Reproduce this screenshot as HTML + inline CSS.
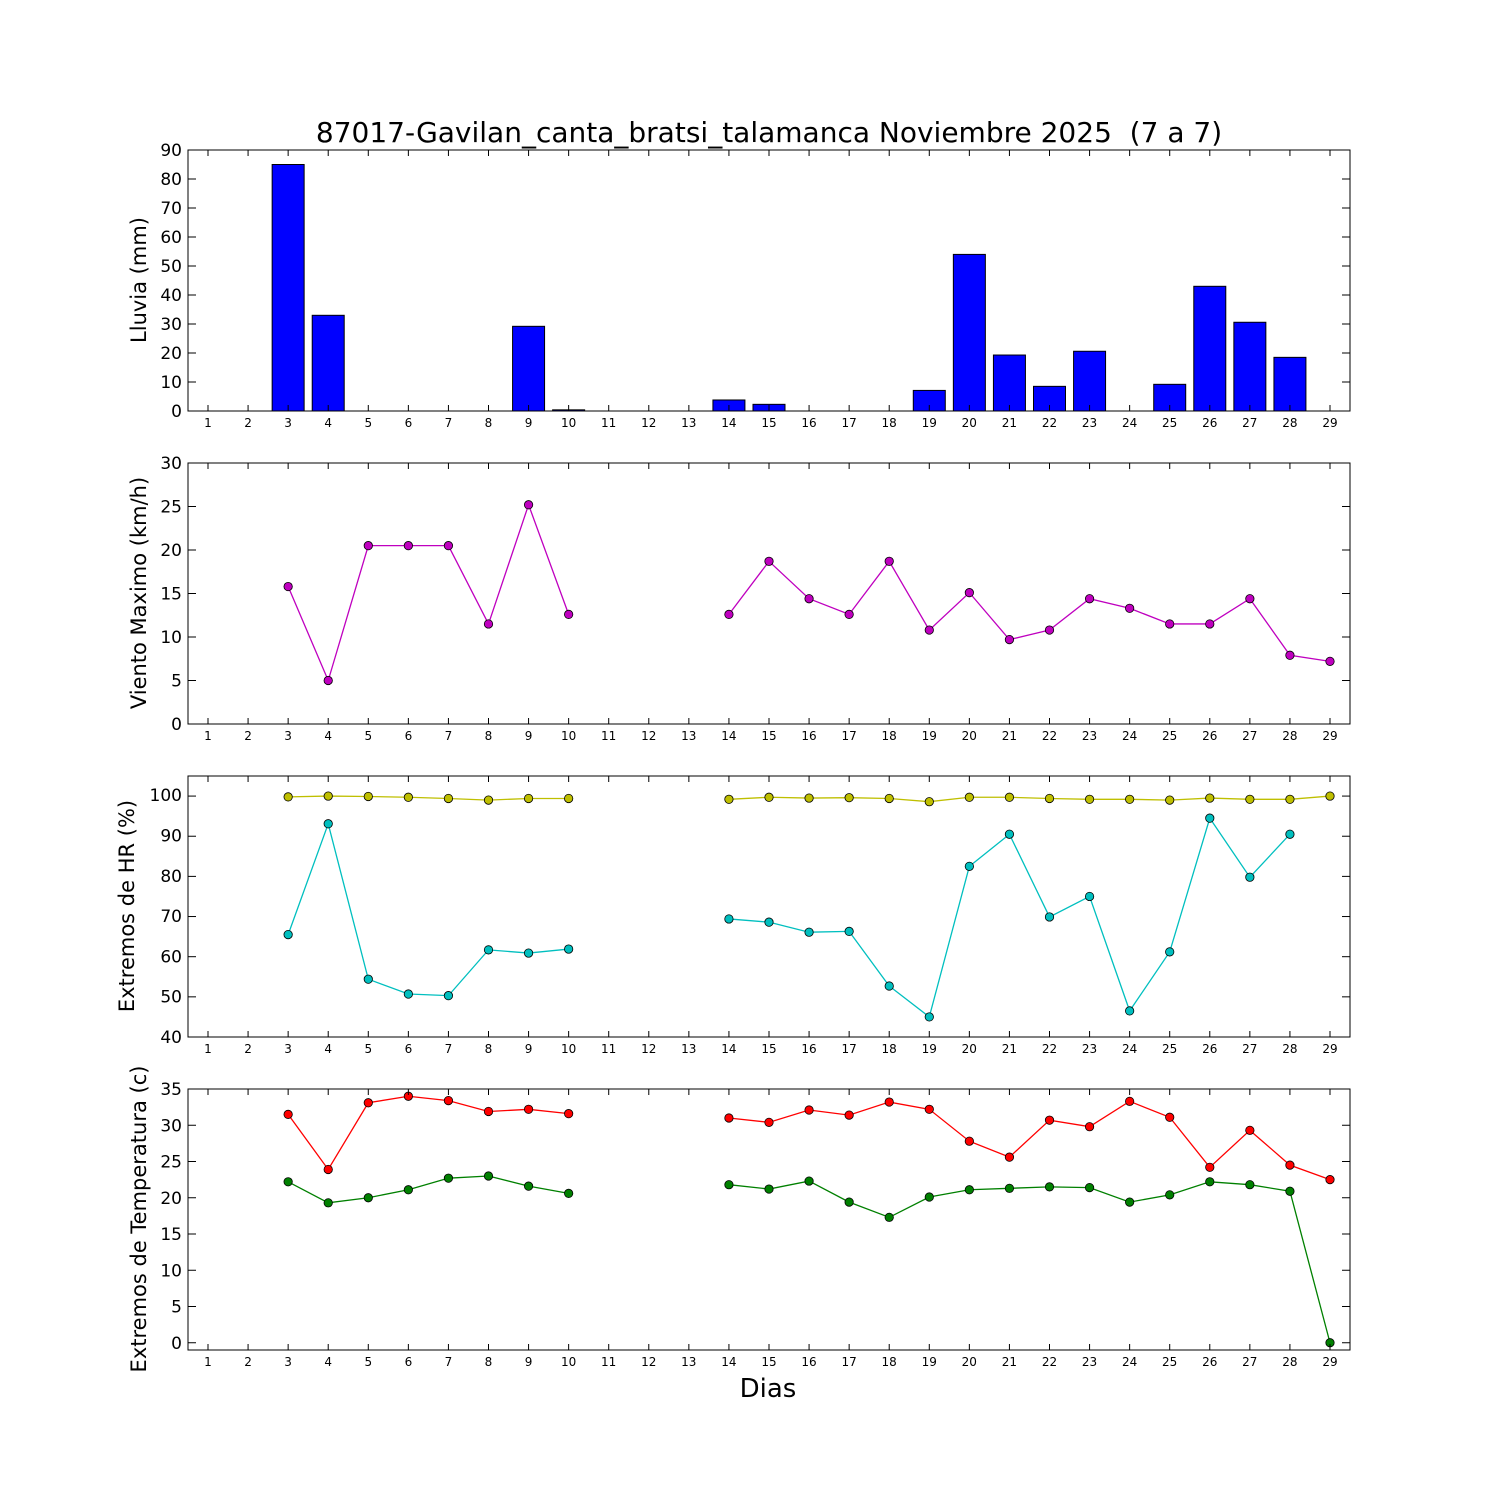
<!DOCTYPE html>
<html><head><meta charset="utf-8"><style>
html,body{margin:0;padding:0;background:#fff}
svg{display:block}
text{font-family:"DejaVu Sans","Liberation Sans",sans-serif;fill:#000}
.xt{font-size:12px;text-anchor:middle}
.yt{font-size:17px;text-anchor:end}
.yl{font-size:21px;text-anchor:middle}
</style></head><body>
<svg id="s" width="1500" height="1500" xmlns="http://www.w3.org/2000/svg">
<rect width="1500" height="1500" fill="#fff"/>
<text x="769" y="142" style="font-size:28px;text-anchor:middle">87017-Gavilan_canta_bratsi_talamanca Noviembre 2025 &#160;(7 a 7)</text>
<text x="768" y="1397" style="font-size:26px;text-anchor:middle">Dias</text>
<g id="data"></g>
<g transform="translate(0,427)">
<text class="xt" x="208">1</text><text class="xt" x="248.1">2</text><text class="xt" x="288.1">3</text><text class="xt" x="328.2">4</text><text class="xt" x="368.3">5</text><text class="xt" x="408.4">6</text><text class="xt" x="448.4">7</text><text class="xt" x="488.5">8</text><text class="xt" x="528.6">9</text><text class="xt" x="568.6">10</text><text class="xt" x="608.7">11</text><text class="xt" x="648.8">12</text><text class="xt" x="688.8">13</text><text class="xt" x="728.9">14</text><text class="xt" x="769">15</text><text class="xt" x="809">16</text><text class="xt" x="849.1">17</text><text class="xt" x="889.2">18</text><text class="xt" x="929.3">19</text><text class="xt" x="969.3">20</text><text class="xt" x="1009.4">21</text><text class="xt" x="1049.5">22</text><text class="xt" x="1089.5">23</text><text class="xt" x="1129.6">24</text><text class="xt" x="1169.7">25</text><text class="xt" x="1209.8">26</text><text class="xt" x="1249.8">27</text><text class="xt" x="1289.9">28</text><text class="xt" x="1330">29</text>
</g>
<g transform="translate(0,740)">
<text class="xt" x="208">1</text><text class="xt" x="248.1">2</text><text class="xt" x="288.1">3</text><text class="xt" x="328.2">4</text><text class="xt" x="368.3">5</text><text class="xt" x="408.4">6</text><text class="xt" x="448.4">7</text><text class="xt" x="488.5">8</text><text class="xt" x="528.6">9</text><text class="xt" x="568.6">10</text><text class="xt" x="608.7">11</text><text class="xt" x="648.8">12</text><text class="xt" x="688.8">13</text><text class="xt" x="728.9">14</text><text class="xt" x="769">15</text><text class="xt" x="809">16</text><text class="xt" x="849.1">17</text><text class="xt" x="889.2">18</text><text class="xt" x="929.3">19</text><text class="xt" x="969.3">20</text><text class="xt" x="1009.4">21</text><text class="xt" x="1049.5">22</text><text class="xt" x="1089.5">23</text><text class="xt" x="1129.6">24</text><text class="xt" x="1169.7">25</text><text class="xt" x="1209.8">26</text><text class="xt" x="1249.8">27</text><text class="xt" x="1289.9">28</text><text class="xt" x="1330">29</text>
</g>
<g transform="translate(0,1053)">
<text class="xt" x="208">1</text><text class="xt" x="248.1">2</text><text class="xt" x="288.1">3</text><text class="xt" x="328.2">4</text><text class="xt" x="368.3">5</text><text class="xt" x="408.4">6</text><text class="xt" x="448.4">7</text><text class="xt" x="488.5">8</text><text class="xt" x="528.6">9</text><text class="xt" x="568.6">10</text><text class="xt" x="608.7">11</text><text class="xt" x="648.8">12</text><text class="xt" x="688.8">13</text><text class="xt" x="728.9">14</text><text class="xt" x="769">15</text><text class="xt" x="809">16</text><text class="xt" x="849.1">17</text><text class="xt" x="889.2">18</text><text class="xt" x="929.3">19</text><text class="xt" x="969.3">20</text><text class="xt" x="1009.4">21</text><text class="xt" x="1049.5">22</text><text class="xt" x="1089.5">23</text><text class="xt" x="1129.6">24</text><text class="xt" x="1169.7">25</text><text class="xt" x="1209.8">26</text><text class="xt" x="1249.8">27</text><text class="xt" x="1289.9">28</text><text class="xt" x="1330">29</text>
</g>
<g transform="translate(0,1366)">
<text class="xt" x="208">1</text><text class="xt" x="248.1">2</text><text class="xt" x="288.1">3</text><text class="xt" x="328.2">4</text><text class="xt" x="368.3">5</text><text class="xt" x="408.4">6</text><text class="xt" x="448.4">7</text><text class="xt" x="488.5">8</text><text class="xt" x="528.6">9</text><text class="xt" x="568.6">10</text><text class="xt" x="608.7">11</text><text class="xt" x="648.8">12</text><text class="xt" x="688.8">13</text><text class="xt" x="728.9">14</text><text class="xt" x="769">15</text><text class="xt" x="809">16</text><text class="xt" x="849.1">17</text><text class="xt" x="889.2">18</text><text class="xt" x="929.3">19</text><text class="xt" x="969.3">20</text><text class="xt" x="1009.4">21</text><text class="xt" x="1049.5">22</text><text class="xt" x="1089.5">23</text><text class="xt" x="1129.6">24</text><text class="xt" x="1169.7">25</text><text class="xt" x="1209.8">26</text><text class="xt" x="1249.8">27</text><text class="xt" x="1289.9">28</text><text class="xt" x="1330">29</text>
</g>
<text class="yt" x="182" y="417">0</text><text class="yt" x="182" y="388">10</text><text class="yt" x="182" y="359">20</text><text class="yt" x="182" y="330">30</text><text class="yt" x="182" y="301">40</text><text class="yt" x="182" y="272">50</text><text class="yt" x="182" y="243">60</text><text class="yt" x="182" y="214">70</text><text class="yt" x="182" y="185">80</text><text class="yt" x="182" y="156">90</text>
<text class="yt" x="182" y="730">0</text><text class="yt" x="182" y="686.5">5</text><text class="yt" x="182" y="643">10</text><text class="yt" x="182" y="599.5">15</text><text class="yt" x="182" y="556">20</text><text class="yt" x="182" y="512.5">25</text><text class="yt" x="182" y="469">30</text>
<text class="yt" x="182" y="1043">40</text><text class="yt" x="182" y="1002.7">50</text><text class="yt" x="182" y="962.4">60</text><text class="yt" x="182" y="922.1">70</text><text class="yt" x="182" y="881.8">80</text><text class="yt" x="182" y="841.5">90</text><text class="yt" x="182" y="801.2">100</text>
<text class="yt" x="182" y="1349">0</text><text class="yt" x="182" y="1312.7">5</text><text class="yt" x="182" y="1276.5">10</text><text class="yt" x="182" y="1240.2">15</text><text class="yt" x="182" y="1204">20</text><text class="yt" x="182" y="1167.7">25</text><text class="yt" x="182" y="1131.5">30</text><text class="yt" x="182" y="1095.2">35</text>
<text class="yl" transform="translate(146,280) rotate(-90)">Lluvia (mm)</text>
<text class="yl" transform="translate(146,593) rotate(-90)">Viento Maximo (km/h)</text>
<text class="yl" transform="translate(134,906) rotate(-90)">Extremos de HR (%)</text>
<text class="yl" transform="translate(146,1219) rotate(-90)">Extremos de Temperatura (c)</text>
</svg>
<script>
(function(){
var NS="http://www.w3.org/2000/svg",g=document.getElementById("data");
function el(t,a){var e=document.createElementNS(NS,t);for(var k in a)e.setAttribute(k,a[k]);g.appendChild(e);return e;}
function X(d){return 208+(d-1)*40.0714;}
var panels=[[150,411,0,90,[0,10,20,30,40,50,60,70,80,90]],[463,724,0,30,[0,5,10,15,20,25,30]],[776,1037,40,105,[40,50,60,70,80,90,100]],[1089,1350,-1,35,[0,5,10,15,20,25,30,35]]];
function Y(p,v){var P=panels[p];return P[1]-(v-P[2])/(P[3]-P[2])*(P[1]-P[0]);}
var rain={3:85,4:33,5:0,6:0,7:0,8:0,9:29.2,10:0.4,14:3.8,15:2.3,17:0,18:0,19:7.1,20:54,21:19.3,22:8.5,23:20.6,25:9.2,26:43,27:30.6,28:18.5};
for(var d in rain){var y=Y(0,rain[d]);el("rect",{x:X(+d)-16,y:y,width:32,height:411-y,fill:"#0000ff",stroke:"#000","stroke-width":1});}
function series(p,data,col){
 var segs=[[]];var days=Object.keys(data).map(Number).sort(function(a,b){return a-b});
 var prev=null;days.forEach(function(d){if(prev!==null&&d-prev>1)segs.push([]);segs[segs.length-1].push([X(d),Y(p,data[d])]);prev=d;});
 segs.forEach(function(s){el("polyline",{points:s.map(function(q){return q.join(",")}).join(" "),fill:"none",stroke:col,"stroke-width":1.3});});
 days.forEach(function(d){el("circle",{cx:X(d),cy:Y(p,data[d]),r:4.2,fill:col,stroke:"#000","stroke-width":0.8});});
}
series(1,{3:15.8,4:5,5:20.5,6:20.5,7:20.5,8:11.5,9:25.2,10:12.6,14:12.6,15:18.7,16:14.4,17:12.6,18:18.7,19:10.8,20:15.1,21:9.7,22:10.8,23:14.4,24:13.3,25:11.5,26:11.5,27:14.4,28:7.9,29:7.2},"#bf00bf");
series(2,{3:99.8,4:100,5:99.9,6:99.7,7:99.4,8:99,9:99.4,10:99.4,14:99.2,15:99.7,16:99.5,17:99.6,18:99.4,19:98.6,20:99.7,21:99.7,22:99.4,23:99.2,24:99.2,25:99,26:99.5,27:99.2,28:99.2,29:100},"#bfbf00");
series(2,{3:65.5,4:93.1,5:54.4,6:50.7,7:50.3,8:61.7,9:60.9,10:61.9,14:69.4,15:68.6,16:66.1,17:66.3,18:52.7,19:45,20:82.5,21:90.5,22:69.9,23:75,24:46.5,25:61.2,26:94.5,27:79.8,28:90.5},"#00bfbf");
series(3,{3:31.5,4:23.9,5:33.1,6:34,7:33.4,8:31.9,9:32.2,10:31.6,14:31,15:30.4,16:32.1,17:31.4,18:33.2,19:32.2,20:27.8,21:25.6,22:30.7,23:29.8,24:33.3,25:31.1,26:24.2,27:29.3,28:24.5,29:22.5},"#ff0000");
series(3,{3:22.2,4:19.3,5:20,6:21.1,7:22.7,8:23,9:21.6,10:20.6,14:21.8,15:21.2,16:22.3,17:19.4,18:17.3,19:20.1,20:21.1,21:21.3,22:21.5,23:21.4,24:19.4,25:20.4,26:22.2,27:21.8,28:20.9,29:0},"#008000");
panels.forEach(function(P,p){
 el("rect",{x:188,y:P[0],width:1162,height:P[1]-P[0],fill:"none",stroke:"#000","stroke-width":1});
 for(var d=1;d<=29;d++){var x=X(d);el("line",{x1:x,x2:x,y1:P[1],y2:P[1]-6,stroke:"#000"});el("line",{x1:x,x2:x,y1:P[0],y2:P[0]+6,stroke:"#000"});}
 P[4].forEach(function(v){var y=Y(p,v);el("line",{x1:188,x2:196,y1:y,y2:y,stroke:"#000"});el("line",{x1:1350,x2:1342,y1:y,y2:y,stroke:"#000"});});
});
})();
</script>
</body></html>
